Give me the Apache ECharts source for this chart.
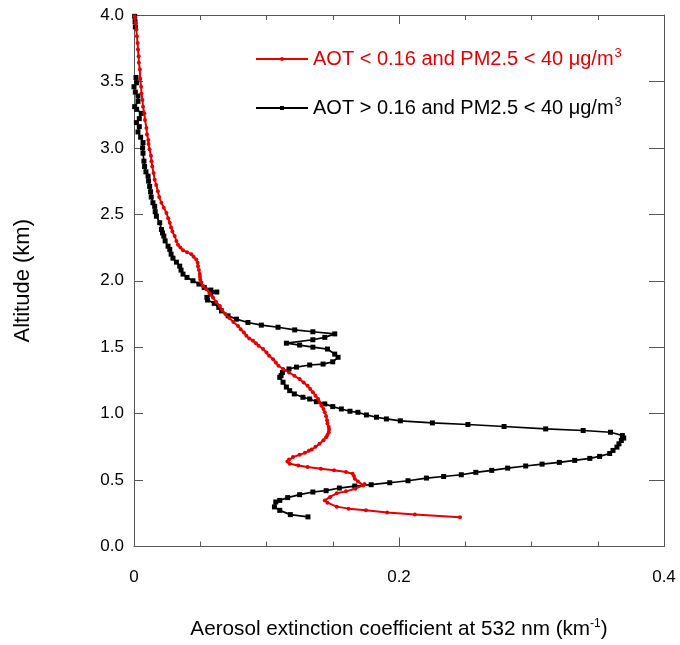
<!DOCTYPE html>
<html>
<head>
<meta charset="utf-8">
<script src="https://cdn.jsdelivr.net/npm/echarts@6/dist/echarts.min.js"></script>
<style>
  html, body { margin: 0; padding: 0; background: #fff; }
  #chart { width: 680px; height: 645px; }
</style>
</head>
<body>
<div id="chart"></div>
<script>
// Extinction profile, AOT < 0.16 (altitude km, extinction km^-1), bottom to top
const lowAotAlt = [0.22,0.24,0.255,0.272,0.285,0.30,0.33,0.347,0.373,0.40,0.415,0.435,0.46,0.47,0.49,0.51,0.53,0.548,0.56,0.573,0.585,0.598,0.61,0.623,0.64,0.655,0.673,0.69,0.705,0.72,0.73,0.75,0.773,0.80,0.823,0.84,0.86,0.88,0.90,0.925,0.95,0.98,1.01,1.035,1.06,1.085,1.11,1.135,1.16,1.185,1.21,1.235,1.26,1.285,1.31,1.336,1.36,1.385,1.41,1.435,1.46,1.486,1.51,1.53,1.548,1.566,1.586,1.61,1.635,1.66,1.69,1.72,1.75,1.78,1.81,1.84,1.874,1.905,1.936,1.96,1.986,2.01,2.03,2.05,2.08,2.11,2.135,2.16,2.18,2.20,2.215,2.23,2.25,2.27,2.30,2.336,2.37,2.40,2.437,2.47,2.51,2.55,2.587,2.63,2.674,2.72,2.76,2.81,2.86,2.90,2.94,2.99,3.03,3.06,3.10,3.15,3.21,3.26,3.31,3.36,3.41,3.46,3.52,3.59,3.64,3.69,3.74,3.79,3.84,3.89,3.94,3.99];
const lowAotExt = [0.246,0.212,0.191,0.175,0.162,0.153,0.146,0.144,0.148,0.153,0.160,0.167,0.173,0.174,0.169,0.1666,0.166,0.165,0.160,0.151,0.141,0.131,0.124,0.1175,0.1158,0.117,0.120,0.125,0.129,0.132,0.134,0.137,0.140,0.143,0.145,0.146,0.147,0.1472,0.147,0.146,0.1457,0.145,0.144,0.143,0.1414,0.140,0.139,0.137,0.135,0.133,0.131,0.128,0.125,0.121,0.117,0.1125,0.109,0.107,0.105,0.102,0.100,0.0974,0.094,0.092,0.0898,0.087,0.0848,0.083,0.0805,0.0785,0.075,0.072,0.069,0.0665,0.0647,0.062,0.0596,0.057,0.0546,0.052,0.0509,0.050,0.0498,0.0496,0.049,0.0483,0.048,0.047,0.045,0.0433,0.040,0.037,0.035,0.0332,0.032,0.0307,0.029,0.028,0.027,0.0258,0.0245,0.0225,0.0207,0.019,0.018,0.0168,0.0156,0.0148,0.0138,0.0132,0.0128,0.0117,0.011,0.0108,0.0098,0.0094,0.0083,0.0078,0.0068,0.0064,0.0056,0.0054,0.0047,0.0044,0.0037,0.0035,0.003,0.0027,0.0022,0.0018,0.0011,0.0005];

// Extinction profile, AOT > 0.16, bottom to top
const highAotAlt = [0.223,0.24,0.272,0.298,0.335,0.347,0.368,0.39,0.41,0.42,0.44,0.455,0.465,0.48,0.495,0.515,0.527,0.54,0.558,0.573,0.59,0.606,0.62,0.633,0.648,0.663,0.678,0.70,0.723,0.748,0.773,0.798,0.816,0.835,0.86,0.873,0.885,0.903,0.918,0.93,0.946,0.96,0.973,0.99,1.01,1.018,1.035,1.053,1.073,1.09,1.11,1.123,1.148,1.173,1.20,1.236,1.273,1.286,1.31,1.336,1.35,1.366,1.373,1.39,1.424,1.448,1.486,1.50,1.516,1.53,1.556,1.574,1.60,1.616,1.63,1.65,1.666,1.686,1.711,1.736,1.773,1.80,1.83,1.855,1.875,1.90,1.915,1.93,1.95,1.975,2.0,2.025,2.05,2.08,2.11,2.14,2.17,2.20,2.236,2.26,2.30,2.336,2.36,2.386,2.437,2.486,2.52,2.56,2.587,2.63,2.67,2.71,2.75,2.787,2.82,2.86,2.90,2.96,3.0,3.04,3.08,3.12,3.16,3.19,3.22,3.26,3.29,3.31,3.35,3.39,3.42,3.46,3.49,3.53];
const highAotExt = [0.1313,0.118,0.110,0.106,0.107,0.110,0.116,0.125,0.135,0.145,0.155,0.1666,0.179,0.193,0.2068,0.2207,0.2337,0.247,0.258,0.270,0.282,0.2956,0.308,0.321,0.3326,0.344,0.3514,0.359,0.3615,0.3645,0.366,0.3678,0.3696,0.3686,0.3596,0.339,0.3107,0.2793,0.252,0.2252,0.201,0.1905,0.183,0.1754,0.169,0.163,0.1565,0.150,0.144,0.1377,0.1326,0.1275,0.121,0.1175,0.115,0.1125,0.110,0.111,0.112,0.117,0.1226,0.1326,0.1427,0.150,0.154,0.1515,0.146,0.135,0.125,0.115,0.135,0.144,0.1515,0.135,0.1213,0.1087,0.0961,0.086,0.0773,0.071,0.066,0.064,0.0605,0.0555,0.055,0.058,0.0625,0.058,0.053,0.049,0.0445,0.040,0.037,0.0355,0.0345,0.032,0.0294,0.028,0.027,0.0257,0.0235,0.0225,0.0215,0.0207,0.0194,0.0169,0.016,0.0156,0.0143,0.013,0.0125,0.0118,0.011,0.0106,0.009,0.008,0.0075,0.0068,0.0065,0.0068,0.005,0.003,0.004,0.0018,0.004,0.0055,0.002,0.0005,0.003,0.003,0.001,0.0,0.002,0.0015];
// Uppermost bins of the AOT > 0.16 profile
const highAotTopAlt = [3.91,3.95,3.99];
const highAotTopExt = [0.001,0.0008,0.0005];

const xTicks = [0, 0.2, 0.4];
const yTicks = [0, 0.5, 1.0, 1.5, 2.0, 2.5, 3.0, 3.5, 4.0];

const RED = '#e60000';
const BLACK = '#000000';
const AXIS = '#555';
const FONT = 'Liberation Sans, Arial, sans-serif';

const pairs = (xs, ys) => xs.map((x, i) => [x, ys[i]]);

const nameLow = 'AOT < 0.16 and PM2.5 < 40 μg/m3';
const nameHigh = 'AOT > 0.16 and PM2.5 < 40 μg/m3';

const chart = echarts.init(document.getElementById('chart'), null, { renderer: 'canvas' });

const axisLine = { show: true, onZero: false, lineStyle: { color: AXIS, width: 1 } };

const option = {
  backgroundColor: '#fff',
  animation: false,
  textStyle: { fontFamily: FONT },
  grid: { left: 134, right: 16, top: 15, bottom: 97, containLabel: false },
  legend: {
    orient: 'vertical',
    left: 250,
    top: 42,
    itemWidth: 52,
    itemHeight: 5,
    itemGap: 26,
    data: [nameLow, nameHigh],
    formatter: function (n) {
      const base = n.slice(0, -1);
      return n === nameLow ? '{r|' + base + '}{rs|3}' : '{k|' + base + '}{ks|3}';
    },
    textStyle: {
      fontFamily: FONT,
      rich: {
        r:  { fontSize: 20, color: RED, lineHeight: 24, fontFamily: FONT },
        rs: { fontSize: 13, color: RED, lineHeight: 24, verticalAlign: 'top', padding: [0, 0, 10, 1], fontFamily: FONT },
        k:  { fontSize: 20, color: BLACK, lineHeight: 24, fontFamily: FONT },
        ks: { fontSize: 13, color: BLACK, lineHeight: 24, verticalAlign: 'top', padding: [0, 0, 10, 1], fontFamily: FONT }
      }
    }
  },
  xAxis: [
    {
      type: 'value', position: 'bottom', min: 0, max: 0.4, interval: 0.2,
      axisLine: axisLine,
      axisTick: { show: true, inside: true, length: 9, lineStyle: { color: AXIS } },
      minorTick: { show: true, splitNumber: 4, length: 5, lineStyle: { color: AXIS } },
      splitLine: { show: false },
      axisLabel: { fontSize: 17, color: '#000', margin: 22, fontFamily: FONT,
        formatter: v => (xTicks.includes(+v.toFixed(2)) ? String(+v.toFixed(2)) : '') },
      name: '{n|Aerosol extinction coefficient at 532 nm (km}{s|-1}{n|)}',
      nameLocation: 'middle',
      nameGap: 71,
      nameTextStyle: {
        rich: {
          n: { fontSize: 20.7, color: '#000', lineHeight: 24, fontFamily: FONT },
          s: { fontSize: 12, color: '#000', lineHeight: 24, verticalAlign: 'top', padding: [0, 0, 10, 0], fontFamily: FONT }
        }
      }
    },
    {
      type: 'value', position: 'top', min: 0, max: 0.4, interval: 0.2,
      axisLine: axisLine,
      axisTick: { show: true, inside: true, length: 9, lineStyle: { color: AXIS } },
      minorTick: { show: true, splitNumber: 4, length: 5, lineStyle: { color: AXIS } },
      splitLine: { show: false },
      axisLabel: { show: false }
    }
  ],
  yAxis: [
    {
      type: 'value', position: 'left', min: 0, max: 4, interval: 0.5,
      axisLine: axisLine,
      axisTick: { show: true, inside: true, length: 9, lineStyle: { color: AXIS } },
      splitLine: { show: false },
      axisLabel: { fontSize: 17, color: '#000', margin: 10, fontFamily: FONT,
        formatter: v => yTicks.includes(+v.toFixed(1)) ? v.toFixed(1) : '' },
      name: 'Altitude (km)',
      nameLocation: 'middle',
      nameGap: 100,
      nameRotate: 90,
      nameTextStyle: { fontSize: 22, color: '#000', fontFamily: FONT }
    },
    {
      type: 'value', position: 'right', min: 0, max: 4, interval: 0.5,
      axisLine: axisLine,
      axisTick: { show: true, inside: true, length: 15, lineStyle: { color: AXIS } },
      splitLine: { show: false },
      axisLabel: { show: false }
    }
  ],
  series: [
    {
      name: nameHigh,
      type: 'line',
      data: pairs(highAotExt, highAotAlt),
      symbol: 'rect', symbolSize: 5,
      itemStyle: { color: BLACK },
      lineStyle: { color: BLACK, width: 1.7 },
      z: 2
    },
    {
      name: 'highTop',
      type: 'line',
      data: pairs(highAotTopExt, highAotTopAlt),
      symbol: 'rect', symbolSize: 5,
      itemStyle: { color: BLACK },
      lineStyle: { color: BLACK, width: 1.7 },
      z: 2
    },
    {
      name: nameLow,
      type: 'line',
      data: pairs(lowAotExt, lowAotAlt),
      symbol: 'circle', symbolSize: 4,
      itemStyle: { color: RED },
      lineStyle: { color: RED, width: 2 },
      z: 3
    }
  ]
};

chart.setOption(option);
</script>
</body>
</html>
